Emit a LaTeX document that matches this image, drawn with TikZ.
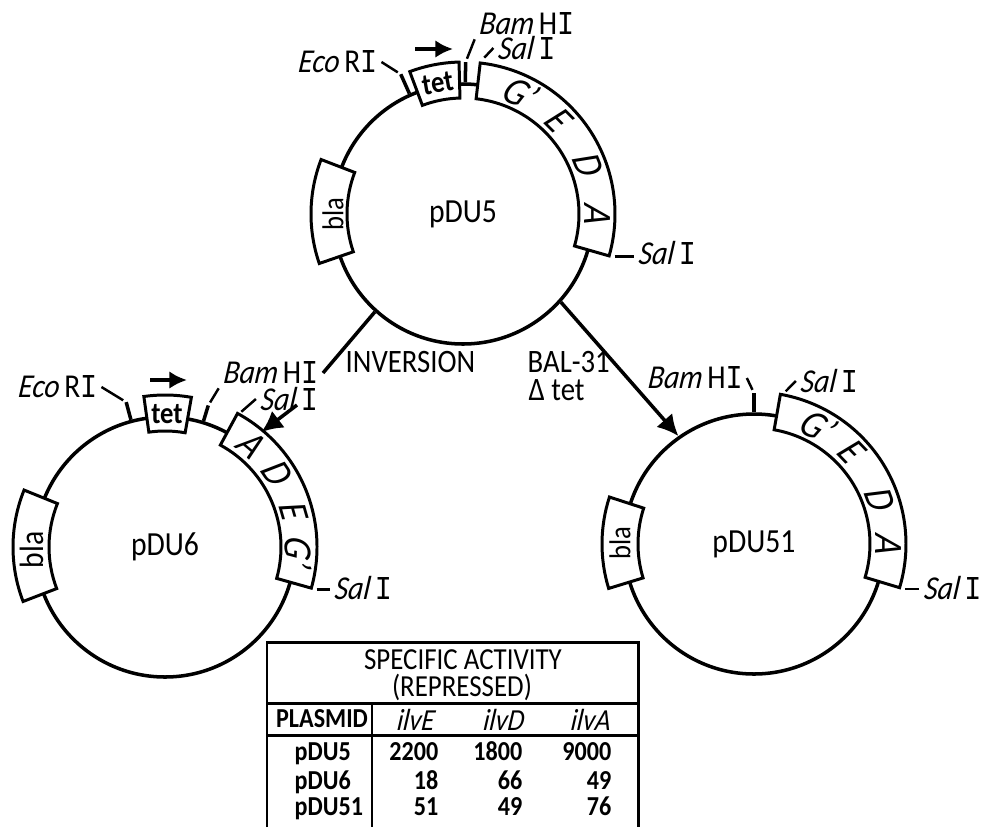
\documentclass[tikz,border=0pt]{standalone}
\usepackage{fontspec}
\setmainfont[FakeStretch=0.88, ItalicFeatures={FakeSlant=0.12}]{Carlito}
\newfontfamily\romfont[FakeStretch=0.85]{Liberation Mono}
\usetikzlibrary{arrows.meta}
\newcommand{\romI}{{\romfont I}}
\newcommand{\genearc}[2]{(#1:1.16) arc[start angle=#1, end angle=#2, radius=1.16] -- (#2:1.52) arc[start angle=#2, end angle=#1, radius=1.52] -- cycle}
\tikzset{
  plasmid/.style={circle, draw, line width=1pt, minimum size=2.6cm, inner sep=0pt, font=\fontsize{9.6}{11}\selectfont},
  genebox/.style={draw, fill=white, line width=0.85pt, line join=miter},
  geneletter/.style={inner sep=0pt, font=\fontsize{11.5}{13}\selectfont\itshape},
  marker/.style={inner sep=0pt, font=\fontsize{8.6}{10}\selectfont},
  tetmark/.style={inner sep=0pt, font=\fontsize{8.6}{10}\selectfont\bfseries},
  cutmark/.style={line width=1pt},
  leader/.style={line width=0.7pt, shorten <=1pt},
  site/.style={inner sep=1pt, font=\fontsize{9.5}{11}\selectfont},
  step label/.style={inner sep=0pt, anchor=west, font=\fontsize{9.3}{11}\selectfont},
  pathway/.style={line width=1pt},
  pathtip/.style={line width=1pt, -{Latex[length=6pt,width=6pt]}},
  direction/.style={line width=1.4pt, -{Latex[length=5pt,width=5pt]}},
  tablerule/.style={line width=0.85pt},
  tablehead/.style={inner sep=0pt, font=\fontsize{8.7}{10}\selectfont},
  tablecell/.style={inner sep=0pt, font=\fontsize{7.8}{9}\selectfont\bfseries}
}

\begin{document}
\begin{tikzpicture}
  \useasboundingbox (0,0) rectangle (9.84,8.27);

  % pDU5
  \begin{scope}[shift={(4.63,6.13)}]
    \node[plasmid] (pDU5) at (0,0) {pDU5};
    \draw[genebox] \genearc{159}{199};
    \draw[genebox] \genearc{91.5}{110.5};
    \draw[genebox] \genearc{83.5}{-16};
    \node[marker, rotate=90] (bla5) at (-1.30,0) {bla};
    \node[tetmark, rotate=10] (tet5) at (101:1.33) {tet};
    \foreach \txt/\ang in {G'/65, E/45, D/22, A/0}
      \node[geneletter, rotate=\ang-90] (gene5\ang) at (\ang:1.34) {\txt};
    \draw[cutmark] (pDU5.114) -- (114:1.53) coordinate (eco5);
    \draw[cutmark] (pDU5.89) -- (89:1.52) coordinate (bam5);
    \coordinate (salup5) at (83:1.55);
    \coordinate (saldown5) at (-16:1.54);
  \end{scope}
  \node[site] (ecolabel5) at (3.375,7.65) {\textit{Eco}\,R\romI};
  \node[site] (bamlabel5) at (5.265,8.03) {\textit{Bam}\,H\romI};
  \node[site] (sallabel5) at (5.265,7.79) {\textit{Sal}\,\romI};
  \node[site] (sallabel5b) at (6.67,5.74) {\textit{Sal}\,\romI};
  \draw[leader] (eco5) -- (ecolabel5.east);
  \draw[leader] (bam5) -- (bamlabel5.south west);
  \draw[leader] (salup5) -- (sallabel5.west);
  \draw[leader] (saldown5) -- (saldown5 -| sallabel5b.west);
  \coordinate (arrowtail5) at (4.15,7.78);
  \coordinate (arrowhead5) at (4.53,7.78);
  \draw[direction] (arrowtail5) -- (arrowhead5);

  % pDU6
  \begin{scope}[shift={(1.65,2.80)}]
    \node[plasmid] (pDU6) at (0,0) {pDU6};
    \draw[genebox] \genearc{158}{201};
    \draw[genebox] \genearc{80}{98};
    \draw[genebox] \genearc{61.5}{-15.7};
    \node[marker, rotate=90, font=\fontsize{9.6}{11}\selectfont] (bla6) at (-1.33,-0.03) {bla};
    \node[tetmark] (tet6) at (0.02,1.33) {tet};
    \foreach \txt/\ang in {A/50, D/34, E/16, G'/-2}
      \node[geneletter, rotate=\ang-90] (gene6\ang) at (\ang:1.34) {\txt};
    \draw[cutmark] (pDU6.105) -- (105:1.50) coordinate (eco6);
    \draw[cutmark] (pDU6.73) -- (73:1.48) coordinate (bam6);
    \coordinate (salup6) at (61:1.52);
    \coordinate (saldown6) at (-16:1.54);
    \coordinate (invhead) at (50:1.50);
  \end{scope}
  \node[site] (ecolabel6) at (0.575,4.40) {\textit{Eco}\,R\romI};
  \node[site] (bamlabel6) at (2.705,4.54) {\textit{Bam}\,H\romI};
  \node[site] (sallabel6) at (2.89,4.28) {\textit{Sal}\,\romI};
  \node[site] (sallabel6b) at (3.63,2.39) {\textit{Sal}\,\romI};
  \draw[leader] (eco6) -- (ecolabel6.east);
  \draw[leader] (bam6) -- (bamlabel6.south west);
  \draw[leader] (salup6) -- (sallabel6.west);
  \draw[leader] (saldown6) -- (saldown6 -| sallabel6b.west);
  \coordinate (arrowtail6) at (1.50,4.47);
  \coordinate (arrowhead6) at (1.87,4.47);
  \draw[direction] (arrowtail6) -- (arrowhead6);

  % pDU51
  \begin{scope}[shift={(7.54,2.83)}]
    \node[plasmid] (pDU51) at (0,0) {pDU51};
    \draw[genebox] \genearc{162}{197};
    \draw[genebox] \genearc{80}{-16.7};
    \node[marker, rotate=90] (bla51) at (-1.34,0.01) {bla};
    \foreach \txt/\ang in {G'/62, E/44, D/20, A/0}
      \node[geneletter, rotate=\ang-90] (gene51\ang) at (\ang:1.34) {\txt};
    \draw[cutmark] (pDU51.90) -- (90:1.51) coordinate (bam51);
    \coordinate (salup51) at (79:1.53);
    \coordinate (saldown51) at (-17:1.54);
  \end{scope}
  \node[site] (bamlabel51) at (6.95,4.49) {\textit{Bam}\,H\romI};
  \node[site] (sallabel51) at (8.29,4.46) {\textit{Sal}\,\romI};
  \node[site] (sallabel51b) at (9.525,2.39) {\textit{Sal}\,\romI};
  \draw[leader] (bam51) -- (bamlabel51.east);
  \draw[leader] (salup51) -- (sallabel51.west);
  \draw[leader] (saldown51) -- (saldown51 -| sallabel51b.west);

  % steps between the plasmids
  \coordinate (invbreak) at (3.23,4.54);
  \coordinate (invresume) at (2.97,4.22);
  \draw[pathway] (pDU5.228) -- (invbreak);
  \draw[pathtip] (invresume) -- (invhead);
  \draw[pathtip] (pDU5.-42) -- (pDU51.125);
  \node[step label] (inversion) at (3.45,4.65) {INVERSION};
  \node[step label] (bal) at (5.27,4.65) {BAL-31};
  \node[step label] (deltatet) at (5.28,4.37) {Δ tet};

  % table
  \draw[tablerule] (2.67,0) -- (2.67,1.85) -- (6.38,1.85) -- (6.38,0);
  \draw[tablerule] (2.67,1.24) -- (6.38,1.24);
  \draw[tablerule] (2.67,0.92) -- (6.38,0.92);
  \draw[tablerule] (3.72,1.24) -- (3.72,0);
  \node[tablehead] (title) at (4.63,1.67) {SPECIFIC ACTIVITY};
  \node[tablehead] (titleb) at (4.62,1.40) {(REPRESSED)};
  \node[tablecell] (plasmidhead) at (3.22,1.08) {PLASMID};
  \node[tablehead, font=\fontsize{8.7}{10}\selectfont\itshape] (ilvE) at (4.15,1.07) {ilvE};
  \node[tablehead, font=\fontsize{8.7}{10}\selectfont\itshape] (ilvD) at (5.03,1.07) {ilvD};
  \node[tablehead, font=\fontsize{8.7}{10}\selectfont\itshape] (ilvA) at (5.90,1.07) {ilvA};
  \foreach \y/\nm/\e/\d/\a in {0.67/pDU5/2200/1800/9000, 0.38/pDU6/18/66/49, 0.12/pDU51/51/49/76} {
    \node[tablecell, anchor=base west] (row\nm) at (2.94,\y) {\nm};
    \node[tablecell, anchor=base east] (cellE\nm) at (4.39,\y) {\e};
    \node[tablecell, anchor=base east] (cellD\nm) at (5.23,\y) {\d};
    \node[tablecell, anchor=base east] (cellA\nm) at (6.12,\y) {\a};
  }
\end{tikzpicture}
\end{document}
